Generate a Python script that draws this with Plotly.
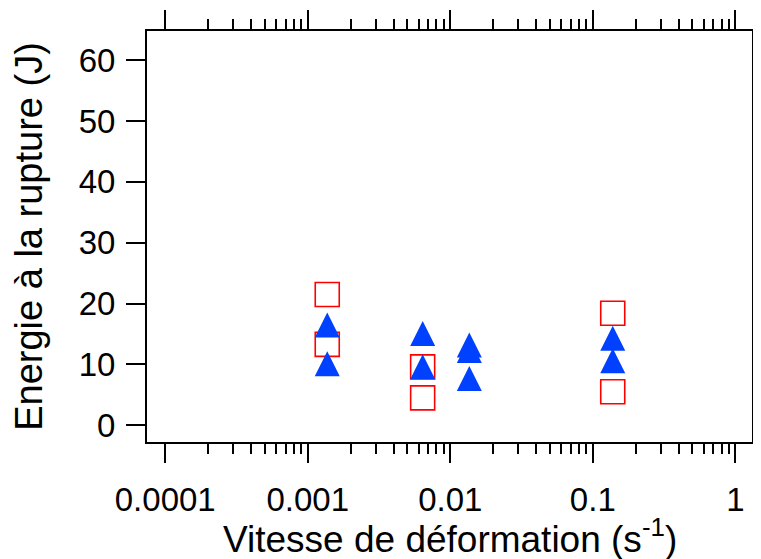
import plotly.graph_objects as go

# Data
rate_tri = [0.00137, 0.00137, 0.0064, 0.0064, 0.0136, 0.0136, 0.0136, 0.138, 0.138]
energy_tri = [16.5, 10.1, 15.1, 9.6, 13.2, 12.3, 7.7, 14.3, 10.6]
rate_sq = [0.00137, 0.00137, 0.0064, 0.0064, 0.138, 0.138]
energy_sq = [21.5, 13.3, 9.6, 4.5, 18.4, 5.5]

x_tickvals = [0.0001, 0.001, 0.01, 0.1, 1]
x_ticktext = ["0.0001", "0.001", "0.01", "0.1", "1"]
y_tickvals = [0, 10, 20, 30, 40, 50, 60]
# minor log ticks (2..9) inside each labelled decade
x_minor_vals = [m * 10.0 ** e for e in range(-4, 0) for m in range(2, 10)]

x_title = "Vitesse de déformation (s<sup>-1</sup>)"
y_title = "Energie à la rupture (J)"

# page body has an 8px default margin, so the figure is drawn 8px in from the corner
W, H = 753, 551
ML, MR, MT, MB = 139, 9, 23, 117
YR = [-2.75, 64.8]
XR = [-4.128, 0.117]
TRI_SIZE = 25
SQ_SIZE = 24

# arrow-up symbol has its apex at the data point; shift a hidden overlay axis
# by half the marker height so the triangle is centred on the value.
plot_h = H - MT - MB
plot_w = W - ML - MR
d = (TRI_SIZE / 2) * (YR[1] - YR[0]) / plot_h

FONT = "Liberation Sans, Arial, Helvetica, sans-serif"

fig = go.Figure()
fig.add_trace(go.Scatter(
    x=rate_tri, y=energy_tri, mode="markers", yaxis="y2",
    marker=dict(symbol="arrow-up", size=TRI_SIZE, color="rgb(0,64,255)",
                line=dict(width=0)),
    showlegend=False, cliponaxis=False,
))
fig.add_trace(go.Scatter(
    x=rate_sq, y=energy_sq, mode="markers",
    marker=dict(symbol="square-open", size=SQ_SIZE, color="rgb(255,0,0)",
                line=dict(width=1.6, color="rgb(255,0,0)")),
    showlegend=False, cliponaxis=False,
))

fig.add_annotation(
    text=x_title, xref="paper", yref="paper", x=0.5,
    y=-(94 / plot_h), xanchor="center", yanchor="middle",
    showarrow=False, font=dict(family=FONT, size=37, color="black"),
)

fig.update_layout(
    width=W, height=H,
    margin=dict(l=ML, r=MR, t=MT, b=MB, autoexpand=False),
    paper_bgcolor="white", plot_bgcolor="white",
    font=dict(family=FONT, size=33, color="black"),
    xaxis=dict(
        type="log", range=XR, automargin=False,
        tickmode="array", tickvals=x_tickvals, ticktext=x_ticktext,
        ticks="outside", ticklen=19, tickwidth=2, tickcolor="black",
        minor=dict(ticks="outside", ticklen=10, tickwidth=2, tickcolor="black",
                   tickmode="array", tickvals=x_minor_vals, showgrid=False),
        showline=True, linewidth=2, linecolor="black", mirror="ticks",
        showgrid=False, zeroline=False,
        ticklabelstandoff=8,
    ),
    yaxis=dict(
        range=YR, tickmode="array", tickvals=y_tickvals, automargin=False,
        ticks="outside", ticklen=19, tickwidth=2, tickcolor="black",
        showline=True, linewidth=2, linecolor="black", mirror="ticks",
        showgrid=False, zeroline=False,
        ticklabelstandoff=4,
        title=dict(text=y_title, font=dict(size=38), standoff=26),
    ),
    yaxis2=dict(
        range=[YR[0] - d, YR[1] - d], overlaying="y", visible=False,
        showgrid=False, zeroline=False, automargin=False,
    ),
)

fig.write_html("out.html")
